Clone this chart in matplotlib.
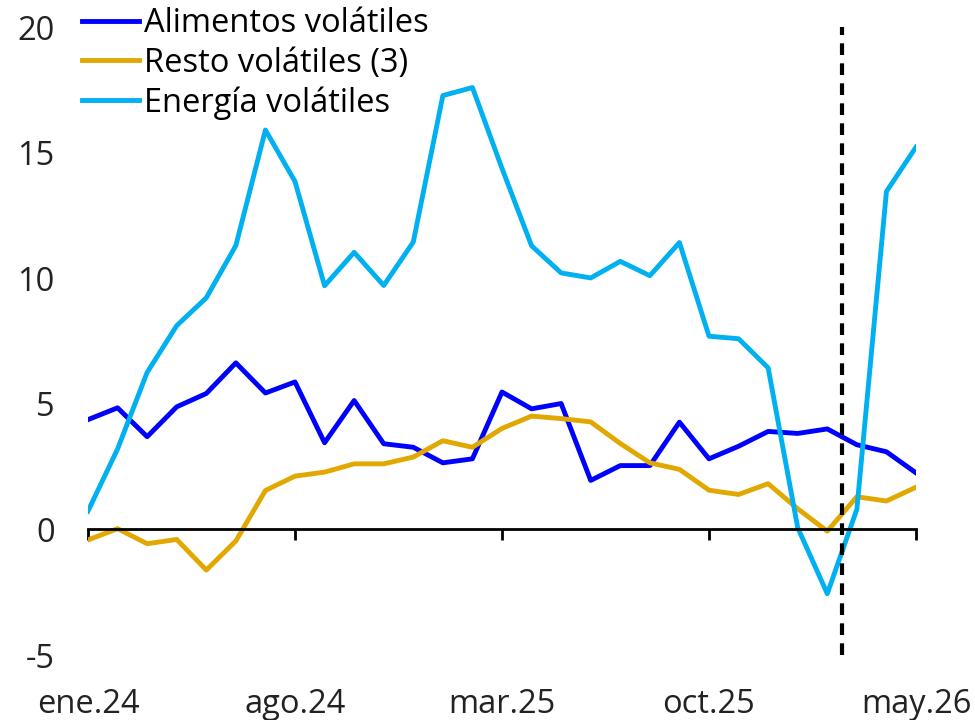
import matplotlib
matplotlib.use("Agg")
import matplotlib.pyplot as plt
import numpy as np

plt.rcParams['font.family'] = ['Open Sans', 'DejaVu Sans']

# monthly series, ene.24 .. may.26
months = ["ene.24", "feb.24", "mar.24", "abr.24", "may.24", "jun.24", "jul.24", "ago.24",
          "sep.24", "oct.24", "nov.24", "dic.24", "ene.25", "feb.25", "mar.25", "abr.25",
          "may.25", "jun.25", "jul.25", "ago.25", "sep.25", "oct.25", "nov.25", "dic.25",
          "ene.26", "feb.26", "mar.26", "abr.26", "may.26"]

alimentos = [4.37, 4.84, 3.69, 4.88, 5.41, 6.63, 5.43, 5.87, 3.45, 5.13, 3.41, 3.27, 2.65, 2.81,
             5.47, 4.80, 5.01, 1.95, 2.54, 2.54, 4.27, 2.81, 3.31, 3.90, 3.82, 4.00, 3.37, 3.09, 2.25]
resto = [-0.42, 0.03, -0.57, -0.40, -1.62, -0.46, 1.55, 2.12, 2.28, 2.61, 2.61, 2.88, 3.53, 3.27,
         4.02, 4.51, 4.41, 4.28, 3.42, 2.65, 2.39, 1.56, 1.39, 1.82, 0.82, -0.07, 1.30, 1.13, 1.68]
energia = [0.73, 3.2, 6.25, 8.11, 9.22, 11.30, 15.90, 13.85, 9.70, 11.03, 9.71, 11.44, 17.27, 17.59,
           14.37, 11.29, 10.21, 10.01, 10.67, 10.10, 11.42, 7.69, 7.59, 6.43, 0.07, -2.56, 0.80, 13.45, 15.22]

tick_labels = ["ene.24", "ago.24", "mar.25", "oct.25", "may.26"]
forecast_split = 25.5

x = np.arange(len(months))
fs = 23.5

fig = plt.figure(figsize=(9.75, 7.2), dpi=100)
ax = fig.add_axes([88 / 975, 1 - 655 / 720, (916 - 88) / 975, (655 - 27) / 720])

ax.plot(x, alimentos, color="#0000FF", lw=3.5, label="Alimentos volátiles")
ax.plot(x, resto, color="#E0A800", lw=3.5, label="Resto volátiles (3)")
ax.plot(x, energia, color="#00B0F0", lw=3.5, label="Energía volátiles")

ax.vlines(forecast_split, -5, 20, colors="black", lw=3, linestyles=(0, (2.8, 2.0)), clip_on=False)

ax.set_xlim(0, len(months) - 1)
ax.set_ylim(-5, 20)
ax.set_yticks([-5, 0, 5, 10, 15, 20])
ax.set_yticklabels(["-5", "0", "5", "10", "15", "20"])

tick_pos = [months.index(t) for t in tick_labels]
ax.set_xticks(tick_pos)
ax.set_xticklabels(tick_labels)

for s in ["top", "right", "left"]:
    ax.spines[s].set_visible(False)
ax.spines["bottom"].set_position(("data", 0))
ax.spines["bottom"].set_linewidth(2)

ax.tick_params(axis="y", length=0, pad=24, labelsize=fs, colors="#222222")
ax.tick_params(axis="x", direction="out", length=8, width=2, pad=106, labelsize=fs,
               colors="black", labelcolor="#222222")

leg = ax.legend(loc="upper left", bbox_to_anchor=(82 / 975, 1 - 7 / 720), bbox_transform=fig.transFigure,
                frameon=False, fontsize=fs, handlelength=1.75, handletextpad=0.15,
                borderpad=0, labelspacing=0.2, borderaxespad=0)

fig.savefig("out.png", dpi=100)
